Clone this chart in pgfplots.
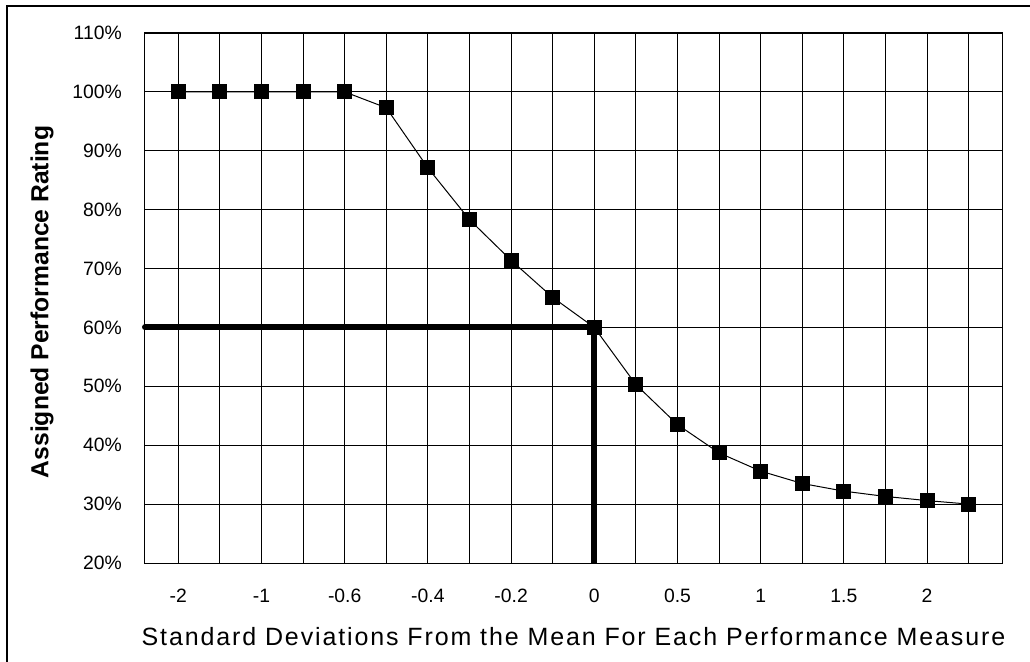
\documentclass[border=0pt]{standalone}
\usepackage{fontspec}
\setmainfont{Liberation Sans}
\usepackage{pgfplots}
\pgfplotsset{compat=1.18}
\newcommand{\tlfont}{\fontsize{14.5pt}{16pt}\selectfont}
\begin{document}
\begin{tikzpicture}
\path[use as bounding box] (-108.75pt,-73.5pt) rectangle (663.75pt,422.25pt);
\draw[line width=0.9pt] (-103.5pt,-80pt) -- (-103.5pt,417.75pt) -- (670pt,417.75pt);
\begin{axis}[
  at={(0,0)}, anchor=south west,
  scale only axis,
  width=642.75pt, height=397.5pt,
  xmin=-0.8, xmax=19.8, ymin=20, ymax=110,
  clip=false,
  axis line style={line width=0.75pt},
  xtick={0,...,19},
  xticklabels={-2,,-1,,-0.6,,-0.4,,-0.2,,0,,0.5,,1,,1.5,,2,},
  ytick={20,30,...,110},
  yticklabels={20\%,30\%,40\%,50\%,60\%,70\%,80\%,90\%,100\%,110\%},
  major tick length=0pt,
  grid=major,
  major grid style={black, line width=0.75pt},
  xticklabel style={font=\tlfont, anchor=center, yshift=-24.75pt},
  yticklabel style={font=\tlfont, anchor=east, inner sep=0pt, xshift=-17.25pt},
  xlabel={\addfontfeatures{LetterSpace=7.5}Standard Deviations From the Mean For Each Performance Measure},
  ylabel={\bfseries Assigned Performance Rating},
  every axis x label/.style={at={(axis description cs:0.5,0)}, anchor=center, yshift=-55.5pt, font=\fontsize{18.75pt}{21pt}\selectfont},
  every axis y label/.style={at={(axis description cs:0,0.5)}, xshift=-77.25pt, yshift=-3pt, anchor=center, rotate=90, font=\fontsize{18.5pt}{21pt}\selectfont},
]
\addplot[black, line width=4.5pt, line cap=round, mark=none] coordinates {(-0.8,60) (10,60)};
\addplot[black, line width=4.5pt, line cap=butt, mark=none] coordinates {(10,60) (10,20)};
\draw[line width=2pt] (axis cs:-0.8,110) -- (axis cs:19.8,110);
\addplot[black, line width=0.75pt, mark=square*, mark size=5.25pt, mark options={solid, fill=black}] coordinates {
(0,100) (1,100) (2,100) (3,100) (4,100) (5,97.3) (6,87.1) (7,78.3) (8,71.4) (9,65.1)
(10,60) (11,50.3) (12,43.5) (13,38.7) (14,35.6) (15,33.5) (16,32.2) (17,31.3) (18,30.6) (19,30.0)
};
\end{axis}
\end{tikzpicture}
\end{document}
